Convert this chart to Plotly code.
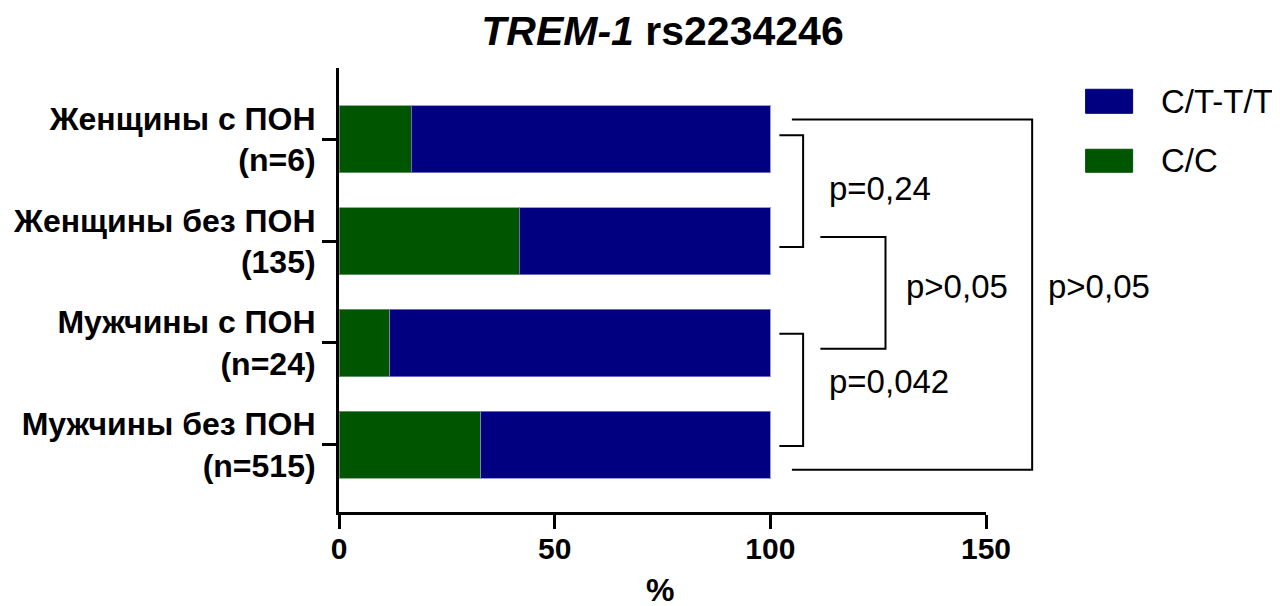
import plotly.graph_objects as go

# ---- data ----
categories = ["Женщины с ПОН<br>(n=6)", "Женщины без ПОН<br>(135)",
              "Мужчины с ПОН<br>(n=24)", "Мужчины без ПОН<br>(n=515)"]
cc_values = [16.7, 41.8, 11.8, 32.9]
ct_tt_values = [100 - v for v in cc_values]
series_names = ["C/C", "C/T-T/T"]
x_ticks = [0, 50, 100, 150]
p_labels = ["p=0,24", "p>0,05", "p=0,042", "p>0,05"]
x_title = "%"

NAVY = "#000080"
GREEN = "#005500"
FONT = "Arial, Liberation Sans, sans-serif"
XMAX = 150.0

ypos = list(range(len(categories)))

fig = go.Figure()
fig.add_trace(go.Bar(y=ypos, x=cc_values, orientation="h", name=series_names[0],
                     marker=dict(color=GREEN, line=dict(color="rgba(120,160,120,0.8)", width=1)),
                     width=0.66, showlegend=False))
fig.add_trace(go.Bar(y=ypos, x=ct_tt_values, orientation="h", name=series_names[1],
                     marker=dict(color=NAVY, line=dict(color="rgba(130,130,210,0.8)", width=1)),
                     width=0.66, showlegend=False))


def px(v):
    return v / XMAX


shapes = []
line = dict(color="black", width=2)


def bracket(x0, x1, y0, y1):
    pts = [(x0, y0), (x1, y0), (x1, y1), (x0, y1)]
    path = "M " + " L ".join(f"{px(a)},{b}" for a, b in pts)
    shapes.append(dict(type="path", path=path, xref="paper", yref="y", line=line))


bracket(102.1, 107.6, -0.04, 1.058)
bracket(102.1, 107.6, 1.909, 3.013)
bracket(111.6, 126.7, 0.96, 2.056)
bracket(105.0, 160.7, -0.194, 3.245)

annotations = []
for txt, xv, yv in [(p_labels[0], 113.2, 0.48), (p_labels[1], 130.9, 1.45),
                    (p_labels[2], 113.2, 2.38), (p_labels[3], 163.8, 1.45)]:
    annotations.append(dict(text=txt, x=px(xv), y=yv, xref="paper", yref="y",
                            xanchor="left", yanchor="middle", showarrow=False,
                            font=dict(family=FONT, size=33, color="black")))

# custom legend
for name, color, y0, y1 in [(series_names[1], NAVY, -0.491, -0.255),
                            (series_names[0], GREEN, 0.098, 0.324)]:
    shapes.append(dict(type="rect", xref="paper", yref="y", x0=px(173.1), x1=px(184.0),
                       y0=y0, y1=y1, fillcolor=color, line=dict(color=color, width=1)))
    annotations.append(dict(text=name, x=px(190.0), y=(y0 + y1) / 2, xref="paper", yref="y",
                            xanchor="left", yanchor="middle", showarrow=False,
                            font=dict(family=FONT, size=33, color="black")))

# x-axis title as annotation (precise placement)
annotations.append(dict(text=f"<b>{x_title}</b>", x=0.496, y=-0.176, xref="paper", yref="paper",
                        xanchor="center", yanchor="middle", showarrow=False,
                        font=dict(family=FONT, size=32, color="black")))

fig.update_layout(
    width=1280, height=606,
    margin=dict(l=331, r=302, t=60, b=102),
    paper_bgcolor="white", plot_bgcolor="white",
    barmode="stack", bargap=0.34,
    title=dict(text="<b><i>TREM-1</i> rs2234246</b>", x=(331 + 978) / 2 / 1280, xanchor="center",
               y=1 - 23 / 606, yanchor="middle", yref="container",
               font=dict(family=FONT, size=41, color="black")),
    shapes=shapes, annotations=annotations,
    xaxis=dict(range=[0, XMAX], tickvals=x_ticks, ticktext=[str(v) for v in x_ticks],
               showline=True, linecolor="black", linewidth=3, ticks="outside",
               ticklen=14, tickwidth=3, tickcolor="black", showgrid=False, zeroline=False,
               automargin=False, ticklabelstandoff=-6,
               tickfont=dict(family=FONT, size=30, color="black", weight="bold")),
    yaxis=dict(range=[3.66, -0.70], tickvals=ypos, ticktext=[f"<b>{c}</b>" for c in categories],
               showline=True, linecolor="black", linewidth=3, ticks="outside",
               ticklen=14, tickwidth=3, tickcolor="black", showgrid=False, zeroline=False,
               automargin=False,
               tickfont=dict(family=FONT, size=32, color="black")),
)

fig.write_html("out.html")
